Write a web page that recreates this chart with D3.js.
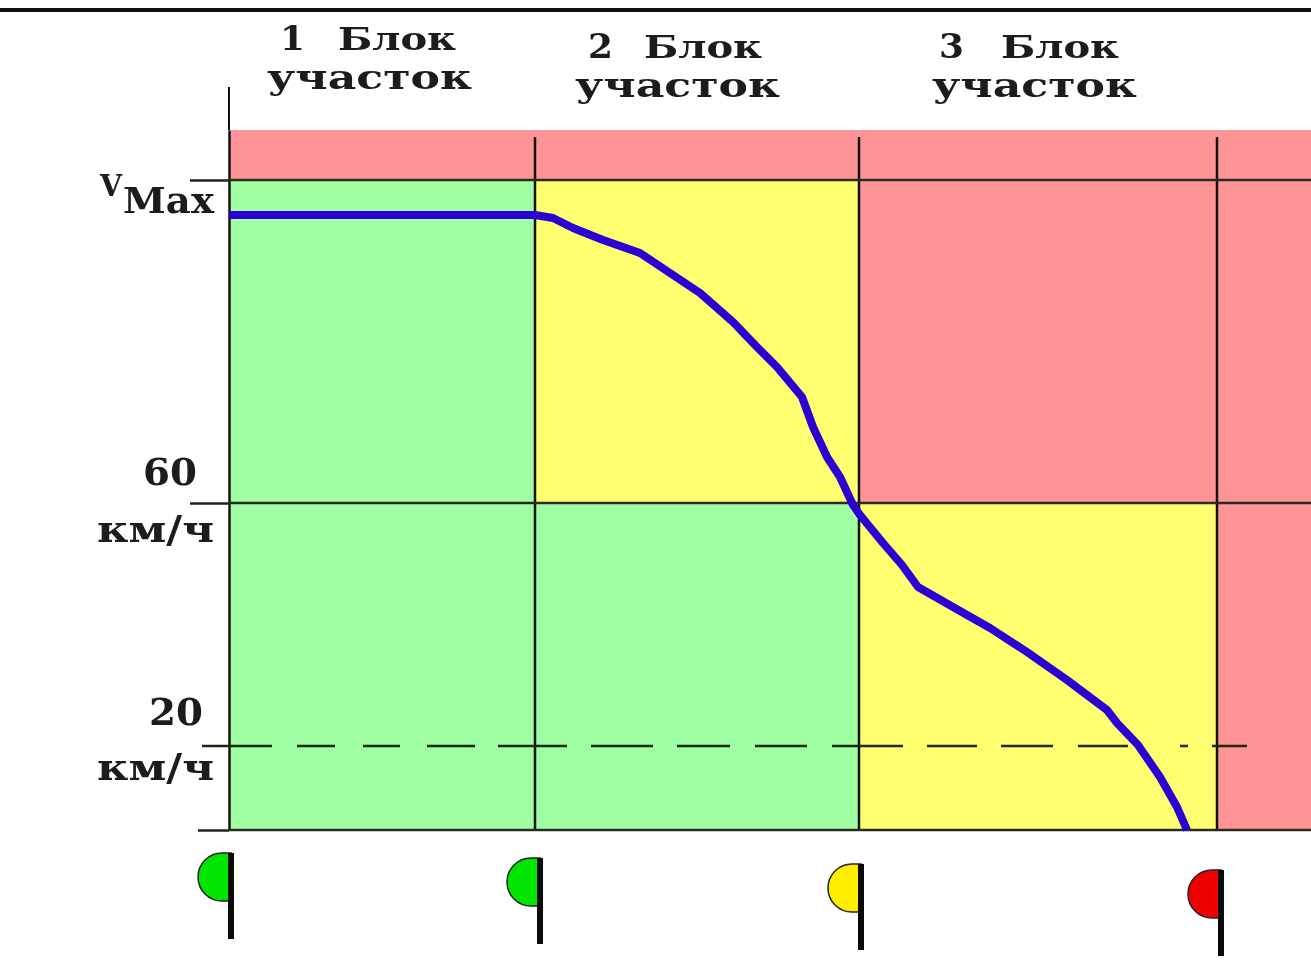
<!DOCTYPE html>
<html>
<head>
<meta charset="utf-8">
<script src="https://cdn.jsdelivr.net/npm/d3@7"></script>
<style>
  html, body { margin: 0; padding: 0; background: #fff; overflow: hidden; }
  svg { display: block; filter: blur(0.6px); }
  text { font-family: "DejaVu Serif", serif; font-weight: bold; fill: #1c1c1c; }
</style>
</head>
<body>
<div id="chart"></div>
<script>
// Track distance and chart height, both
const blockEdges = [0, 306, 630, 988, 1082];
const topOfChart = 700;
const vMaxLevel = 650;
const level60 = 327;
const level20 = 84;

// Zones per column, from the bottom up
const zoneColors = { green: "#a0ffa2", yellow: "#ffff70", red: "#ff9496" };
const lowerZones = ["green", "green", "yellow", "red"];
const upperZones = ["green", "yellow", "red", "red"];

// Braking curve
const curveDistance = [0, 306, 324, 344, 374, 411, 441, 471, 504, 528, 548, 573, 584, 598, 611, 624, 631, 654, 673, 689, 724, 761, 798, 838, 878, 888, 909, 931, 948, 958];
const curveHeight = [615, 615, 612, 602, 590, 577, 557, 537, 508, 483, 463, 433, 403, 373, 353, 325, 315, 287, 265, 243, 223, 202, 178, 150, 120, 107, 85, 53, 23, 0];

// Visible pieces of the dashed 20 km/h line
const dashStart = [-27, 68, 134, 198, 269, 362, 448, 526, 603, 698, 772, 849, 951, 983];
const dashEnd = [43, 106, 171, 246, 338, 424, 501, 578, 674, 748, 824, 899, 959, 1018];

// Block titles
const blockNumbers = ["1", "2", "3"];
const blockWord = "Блок";
const sectionWord = "участок";
const blockNumberX = [51, 359, 710];
const blockWordX = [109, 415, 772];
const sectionWordX = [38, 346, 703];
const blockNumberHeight = [780, 772, 772];
const blockWordHeight = [780, 772, 772];
const sectionWordHeight = [741, 733, 733];

// Axis labels
const speedLabels = ["60", "20"];
const speedLabelRight = [197, 203];
const speedLabelHeight = [345, 105];
const unitLabel = "км/ч";
const unitLabelHeight = [288, 50];

// Signals under the block edges
const signalDistance = [2, 311, 632, 992];
const signalTop = [-23, -28, -34, -40];
const signalColors = ["#00e600", "#00e600", "#ffee00", "#f00000"];

const width = 1311;
const height = 968;

const svg = d3.select("#chart").append("svg")
  .attr("width", width)
  .attr("height", height);

const x = d3.scaleLinear().domain([0, 1082]).range([229, 1311]);
const y = d3.scaleLinear().domain([0, 700]).range([830, 130]);

// Black rule along the top of the page
svg.append("rect")
  .attr("x", 0)
  .attr("y", 8)
  .attr("width", width)
  .attr("height", 4)
  .attr("fill", "#111");

// Zones
function drawZones(zones, low, high) {
  svg.selectAll(null)
    .data(zones)
    .enter().append("rect")
    .attr("x", (d, i) => x(blockEdges[i]))
    .attr("y", y(high))
    .attr("width", (d, i) => x(blockEdges[i + 1]) - x(blockEdges[i]))
    .attr("height", y(low) - y(high))
    .attr("fill", d => zoneColors[d]);
}
drawZones(lowerZones, 0, level60);
drawZones(upperZones, level60, vMaxLevel);

svg.append("rect")
  .attr("x", x(0))
  .attr("y", y(topOfChart))
  .attr("width", x(1082) - x(0))
  .attr("height", y(vMaxLevel) - y(topOfChart))
  .attr("fill", zoneColors.red);

// Block edges
svg.selectAll(null)
  .data(blockEdges.slice(1, 4))
  .enter().append("line")
  .attr("x1", d => x(d))
  .attr("x2", d => x(d))
  .attr("y1", y(693))
  .attr("y2", y(0))
  .attr("stroke", "#111")
  .attr("stroke-width", 2.5);

// Left axis with its ticks, the domain line runs above the chart
const axis = d3.axisLeft(y)
  .tickValues([0, level60, vMaxLevel])
  .tickSize(39)
  .tickSizeOuter(0)
  .tickFormat("");
const axisGroup = svg.append("g")
  .attr("transform", `translate(${x(0)},0)`)
  .call(axis);
axisGroup.select(".domain").attr("stroke", "#111").attr("stroke-width", 2.5);
axisGroup.selectAll(".tick line").attr("stroke", "#222").attr("stroke-width", 2.5);
axisGroup.selectAll(".tick").filter(d => d === 0).select("line").attr("x2", -31);
svg.append("line")
  .attr("x1", x(0))
  .attr("x2", x(0))
  .attr("y1", y(743))
  .attr("y2", y(700))
  .attr("stroke", "#111")
  .attr("stroke-width", 2);

// Horizontal lines across the chart
svg.selectAll(null)
  .data([0, level60, vMaxLevel])
  .enter().append("line")
  .attr("x1", x(0))
  .attr("x2", x(1082))
  .attr("y1", d => y(d))
  .attr("y2", d => y(d))
  .attr("stroke", "#2a2a20")
  .attr("stroke-width", 2.5);

// Dashed line for 20 km/h
svg.selectAll(null)
  .data(dashStart)
  .enter().append("line")
  .attr("x1", d => x(d))
  .attr("x2", (d, i) => x(dashEnd[i]))
  .attr("y1", y(level20))
  .attr("y2", y(level20))
  .attr("stroke", "#1c2a10")
  .attr("stroke-width", 2.5);

// Braking curve, straight pieces keep the kinks of the original
const line = d3.line()
  .x(d => x(d))
  .y((d, i) => y(curveHeight[i]));

svg.append("path")
  .attr("d", line(curveDistance))
  .attr("fill", "none")
  .attr("stroke", "#2c00d2")
  .attr("stroke-width", 8)
  .attr("stroke-linejoin", "round");

// Text with a fixed measured width
function label(str, px, py, size, len, anchor) {
  return svg.append("text")
    .attr("x", px)
    .attr("y", py)
    .attr("font-size", size)
    .attr("text-anchor", anchor || "start")
    .attr("textLength", len)
    .attr("lengthAdjust", "spacingAndGlyphs")
    .text(str);
}

blockNumbers.forEach((n, i) => {
  label(n, x(blockNumberX[i]), y(blockNumberHeight[i]), 33, 25);
  label(blockWord, x(blockWordX[i]), y(blockWordHeight[i]), 31, 118);
  label(sectionWord, x(sectionWordX[i]), y(sectionWordHeight[i]), 34, 205);
});

// Axis labels
label("V", 100, y(634), 30, 22);
label("Max", 123, y(617), 35, 91);
speedLabels.forEach((s, i) => {
  label(s, speedLabelRight[i], y(speedLabelHeight[i]), 38, 54, "end");
});
unitLabelHeight.forEach(h => {
  label(unitLabel, 214, y(h), 38, 117, "end");
});

// Signals: half disc on a pole
const signals = svg.selectAll(null)
  .data(signalDistance)
  .enter().append("g")
  .attr("transform", (d, i) => `translate(${x(d)},${y(signalTop[i])})`);

signals.append("path")
  .attr("d", "M0,0 L-9,0 A24,24 0 0 0 -9,48 L0,48 Z")
  .attr("fill", (d, i) => signalColors[i])
  .attr("stroke", "#222")
  .attr("stroke-width", 1.5);

signals.append("rect")
  .attr("x", -3)
  .attr("y", 0)
  .attr("width", 6)
  .attr("height", 86)
  .attr("fill", "#0a0a0a");
</script>
</body>
</html>
